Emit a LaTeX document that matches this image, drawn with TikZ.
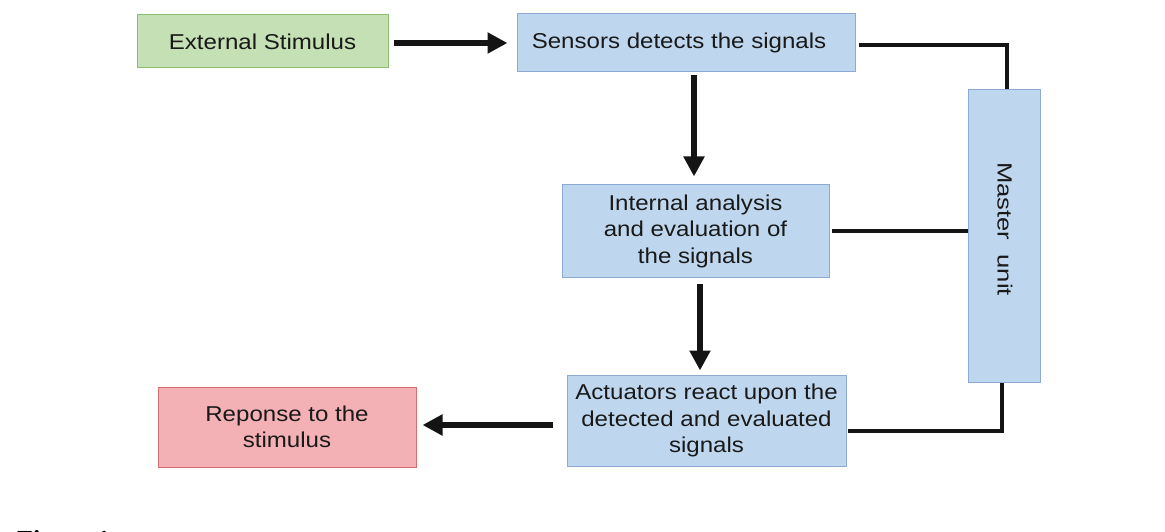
\documentclass[tikz,border=0pt]{standalone}
\usepackage{fontspec}
\setmainfont{Liberation Sans}[FakeStretch=1.12]
\newfontfamily\mastfont{Liberation Sans}[FakeStretch=1.25]
\newfontfamily\capfont{Liberation Serif}
\usetikzlibrary{arrows.meta}

\definecolor{boxblue}{RGB}{191,215,238}
\definecolor{bordblue}{RGB}{140,170,210}
\definecolor{boxgreen}{RGB}{197,224,180}
\definecolor{bordgreen}{RGB}{140,190,115}
\definecolor{boxpink}{RGB}{244,177,181}
\definecolor{bordpink}{RGB}{215,110,110}
\definecolor{txt}{RGB}{25,25,25}
\definecolor{ink}{RGB}{20,20,20}

\tikzset{
  stepbox/.style={draw=bordblue, fill=boxblue, line width=1pt, text=txt,
    align=center, inner sep=0pt,
    font=\fontsize{21.5}{26.5}\selectfont},
  bigarrow/.style={draw=ink, line width=6.5pt,
    -{Triangle[length=20pt,width=20pt]}},
  link/.style={draw=ink, line width=4pt},
}

\begin{document}
\begin{tikzpicture}[x=1pt,y=-1pt]
\fill[white] (0,0) rectangle (1165,532);
\useasboundingbox (0,0) rectangle (1165,532);

% process boxes
\node[stepbox, fill=boxgreen, draw=bordgreen, minimum width=251pt, minimum height=53pt]
  (ext) at (262.5,41.5) {External Stimulus};
\node[stepbox, minimum width=338pt, minimum height=58pt]
  (sens) at (686,43) {Sensors detects the signals\hspace*{14pt}};
\node[stepbox, minimum width=267pt, minimum height=92pt]
  (anal) at (695.5,231) {Internal analysis\\and evaluation of\\the signals};
\node[stepbox, minimum width=279pt, minimum height=91pt]
  (act) at (706.5,420.5) {Actuators react upon the\\detected and evaluated\\signals};
\node[stepbox, fill=boxpink, draw=bordpink, minimum width=258pt, minimum height=80pt]
  (resp) at (287,427) {Reponse to the\\stimulus};

% master unit (vertical bar with rotated label)
\node[stepbox, minimum width=72pt, minimum height=292pt] (master) at (1004,236) {};
\node[rotate=-90, text=txt, inner sep=0pt, font=\mastfont\fontsize{20.5}{24}\selectfont]
  (mlabel) at (1005,229) {Master\ \ unit};

% flow arrows
\draw[bigarrow, shorten <=5pt, shorten >=9pt]
  ([yshift=-1.5pt]ext.east) -- ([yshift=-1.5pt]ext.east -| sens.west);
\draw[bigarrow, shorten <=3pt, shorten >=8pt]
  ([xshift=8pt]sens.south) -- ([xshift=8pt]sens.south |- anal.north);
\draw[bigarrow, shorten <=6pt, shorten >=4pt]
  ([xshift=4.5pt]anal.south) -- ([xshift=4.5pt]anal.south |- act.north);
\draw[bigarrow, shorten <=14pt, shorten >=6pt]
  ([yshift=-4.5pt]act.west) -- ([yshift=-4.5pt]act.west -| resp.east);

% links to the master unit
\draw[link] ([xshift=3pt,yshift=-2pt]sens.east) -| ([xshift=3pt]master.north);
\draw[link] ([xshift=2pt]anal.east) -- (anal.east -| master.west);
\draw[link] ([xshift=1pt,yshift=-10.5pt]act.east) -| ([xshift=-2pt]master.south);

% caption, running off the lower edge of the page
\node[anchor=base west, inner sep=0pt, text=black,
  font=\capfont\bfseries\fontsize{26}{30}\selectfont] (fig) at (17,548) {Figure 1.};
\end{tikzpicture}
\end{document}
